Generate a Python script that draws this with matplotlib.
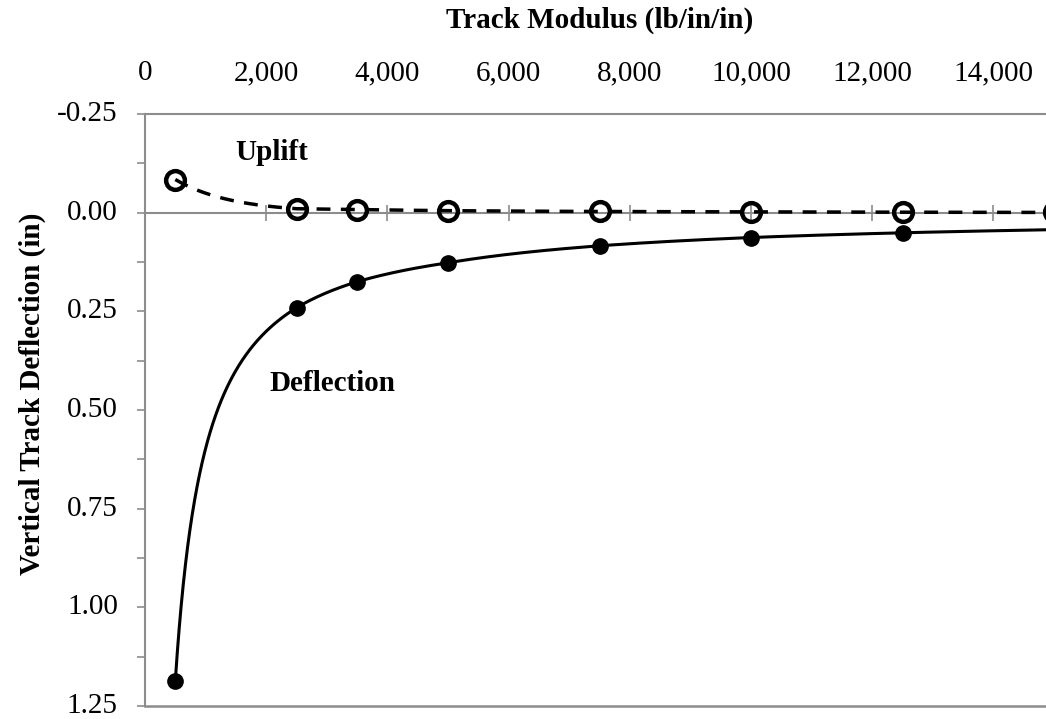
import numpy as np
import matplotlib
matplotlib.use("Agg")
import matplotlib.pyplot as plt
import matplotlib.transforms as mtransforms

# Data
modulus = [500, 2500, 3500, 5000, 7500, 10000, 12500, 15000]
deflection = [1.187, 0.241, 0.175, 0.127, 0.084, 0.063, 0.051, 0.043]
uplift = [-0.084, -0.010, -0.008, -0.005, -0.003, -0.002, -0.0012, -0.0006]
x_ticks = [0, 2000, 4000, 6000, 8000, 10000, 12000, 14000]
y_ticks = [-0.25, 0.0, 0.25, 0.5, 0.75, 1.0, 1.25]

plt.rcParams['font.family'] = ['Liberation Serif', 'DejaVu Serif']


def smooth_curve(xs, ys, logx=True, n=600):
    """Draw-only smoothing: interpolate between data points in log space."""
    xs = np.asarray(xs, float)
    ys = np.asarray(ys, float)
    sign = np.sign(ys[0])
    ly = np.log(np.abs(ys))
    if logx:
        tx = np.log(xs)
        tt = np.linspace(tx[0], tx[-1], n)
        return np.exp(tt), sign * np.exp(np.interp(tt, tx, ly))
    tt = np.linspace(xs[0], xs[-1], n)
    return tt, sign * np.exp(np.interp(tt, xs, ly))


fig = plt.figure(figsize=(10.46, 7.19), dpi=100)
ax = fig.add_axes([145/1046, 1 - 706/719, (1054 - 145)/1046, (706 - 114)/719])

gray = '#8c8c8c'

# Lines
cx, cy = smooth_curve(modulus, deflection, logx=True)
ax.plot(cx, cy, color='black', lw=2.2, zorder=3)
ux, uy = smooth_curve(modulus, uplift, logx=False)
ax.plot(ux, uy, color='black', lw=2.5, ls=(0, (4, 3)), zorder=3)

ax.plot(modulus, deflection, 'o', color='black', ms=11, zorder=4, clip_on=False)
ax.plot(modulus, uplift, 'o', mfc='none', mec='black', mew=3.2, ms=13.5, zorder=5, clip_on=False)

ax.set_xlim(0, 15000)
ax.set_ylim(1.25, -0.25)

ax.set_xticks(x_ticks)
ax.set_xticklabels([f"{v:,}" for v in x_ticks])
ax.set_yticks(y_ticks)
ax.set_yticklabels([f"{v:.2f}" for v in y_ticks])
ax.set_yticks(np.arange(-0.25, 1.26, 0.125), minor=True)

ax.spines['right'].set_visible(False)
ax.spines['bottom'].set_position(('data', 0))
for s in ['left', 'top', 'bottom']:
    ax.spines[s].set_color(gray)
    ax.spines[s].set_linewidth(1.5)
ax.axhline(1.25, color=gray, lw=1.8, clip_on=False, zorder=1)

ax.tick_params(axis='x', which='both', bottom=True, top=False, labelbottom=False,
               labeltop=True, direction='inout', length=12, width=1.2, color=gray,
               labelsize=21, pad=14)
ax.tick_params(axis='y', which='both', direction='out', length=6, width=1.2,
               color=gray, labelsize=21, pad=13.5)

# nudge y tick labels up a touch so the bottom label stays inside the canvas
offset = mtransforms.ScaledTranslation(0, 3/100, fig.dpi_scale_trans)
for lbl in ax.get_yticklabels():
    lbl.set_transform(lbl.get_transform() + offset)

fig.text(600/1046, 1 - 20/719, 'Track Modulus (lb/in/in)', ha='center', va='center',
         fontsize=21, fontweight='bold')
fig.text(32/1046, 1 - 394/719, 'Vertical Track Deflection (in)', ha='center', va='center',
         rotation=90, fontsize=21, fontweight='bold')

ax.text(2096, -0.152, 'Uplift', fontsize=21, fontweight='bold', ha='center', va='center')
ax.text(3086, 0.434, 'Deflection', fontsize=21, fontweight='bold', ha='center', va='center')

fig.savefig('out.png', dpi=100)
